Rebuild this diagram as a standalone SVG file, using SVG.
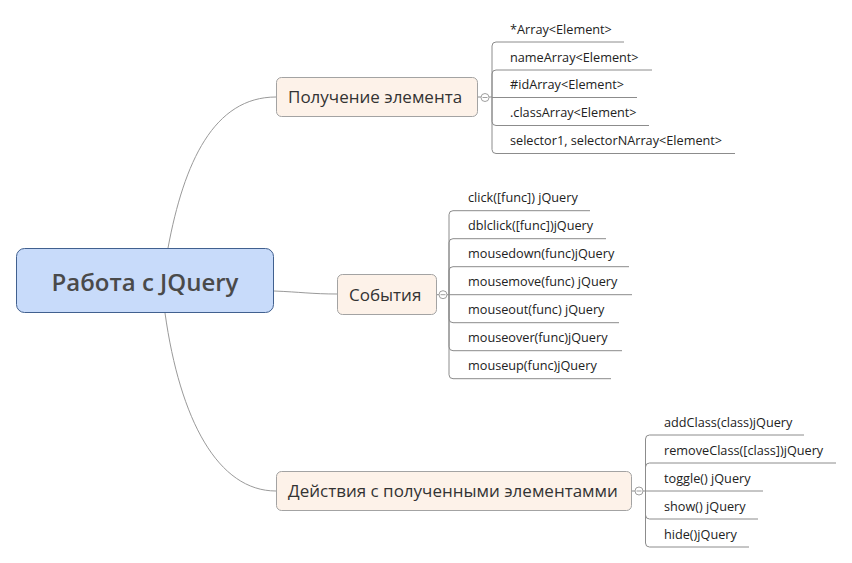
<svg xmlns="http://www.w3.org/2000/svg" width="852" height="563" viewBox="0 0 852 563">
<style>
.root{fill:#c8dbfa;stroke:#41608f;stroke-width:1}
.topic{fill:#fdf2e9;stroke:#a3a3a3;stroke-width:1}
.rt{font-family:"Open Sans","Noto Sans",sans-serif;font-size:24px;font-weight:600;fill:#4a4a4a}
.tt{font-family:"Open Sans","Noto Sans",sans-serif;font-size:17px;fill:#333}
.ct{font-family:"Open Sans","Noto Sans",sans-serif;font-size:12.7px;fill:#222}
.conn{fill:none;stroke:#9a9a9a;stroke-width:1}
.sub{fill:none;stroke:#8c8c8c;stroke-width:1}
.col{fill:#fff;stroke:#a0a0a0;stroke-width:1}
</style>
<g id="connectors">
<path class="conn" d="M168,248 C184,162 214,97 276,97"/>
<path class="conn" d="M274,291 C300,292 312,294 337,294"/>
<path class="conn" d="M165,313 C180,420 218,491 276,491"/>
<path class="sub" d="M478,97 H492"/>
<path class="sub" d="M437,294.7 H449"/>
<path class="sub" d="M632,491 H645.5"/>
<g id="b1-lines">
<path class="sub" d="M492,97.5 V46 Q492,42 496,42 H624"/>
<path class="sub" d="M492,97.5 V74 Q492,70 496,70 H652"/>
<path class="sub" d="M492,97.5 H637"/>
<path class="sub" d="M492,97.5 V121.5 Q492,125.5 496,125.5 H649"/>
<path class="sub" d="M492,97.5 V149.5 Q492,153.5 496,153.5 H735"/>
</g>
<g id="b2-lines">
<path class="sub" d="M449,294.7 V214.7 Q449,210.7 453,210.7 H590"/>
<path class="sub" d="M449,294.7 V242.7 Q449,238.7 453,238.7 H606"/>
<path class="sub" d="M449,294.7 V270.7 Q449,266.7 453,266.7 H629"/>
<path class="sub" d="M449,294.7 H632"/>
<path class="sub" d="M449,294.7 V318.7 Q449,322.7 453,322.7 H619"/>
<path class="sub" d="M449,294.7 V346.7 Q449,350.7 453,350.7 H622"/>
<path class="sub" d="M449,294.7 V374.7 Q449,378.7 453,378.7 H611"/>
</g>
<g id="b3-lines">
<path class="sub" d="M645.5,491 V439 Q645.5,435 649.5,435 H804"/>
<path class="sub" d="M645.5,491 V467 Q645.5,463 649.5,463 H836"/>
<path class="sub" d="M645.5,491 H763"/>
<path class="sub" d="M645.5,491 V515 Q645.5,519 649.5,519 H758"/>
<path class="sub" d="M645.5,491 V543 Q645.5,547 649.5,547 H749"/>
</g>
</g>
<g id="root">
<rect class="root" x="16.5" y="248.5" width="257" height="64" rx="8"/>
<text class="rt" x="145" y="291" text-anchor="middle">Работа с JQuery</text>
</g>
<g id="topic1">
<rect class="topic" x="276.5" y="77.5" width="201" height="39" rx="5"/>
<text class="tt" x="288" y="103">Получение элемента</text>
<circle class="col" cx="485" cy="97.5" r="4"/>
<line x1="482.5" y1="97.5" x2="487.5" y2="97.5" stroke="#a0a0a0"/>
</g>
<g id="topic2">
<rect class="topic" x="337.5" y="274.5" width="99" height="40" rx="5"/>
<text class="tt" x="349" y="301">События</text>
<circle class="col" cx="443" cy="294.7" r="4"/>
<line x1="440.5" y1="294.7" x2="445.5" y2="294.7" stroke="#a0a0a0"/>
</g>
<g id="topic3">
<rect class="topic" x="276.5" y="471.5" width="355" height="39" rx="5"/>
<text class="tt" x="288" y="497">Действия с полученными элементамми</text>
<circle class="col" cx="639" cy="491" r="4"/>
<line x1="636.5" y1="491" x2="641.5" y2="491" stroke="#a0a0a0"/>
</g>
<g id="c1-1"><text class="ct" x="510" y="33.5">*Array&lt;Element&gt;</text></g>
<g id="c1-2"><text class="ct" x="510" y="61.5">nameArray&lt;Element&gt;</text></g>
<g id="c1-3"><text class="ct" x="510" y="89">#idArray&lt;Element&gt;</text></g>
<g id="c1-4"><text class="ct" x="510" y="117">.classArray&lt;Element&gt;</text></g>
<g id="c1-5"><text class="ct" x="510" y="145">selector1, selectorNArray&lt;Element&gt;</text></g>
<g id="c2-1"><text class="ct" x="468" y="202">click([func]) jQuery</text></g>
<g id="c2-2"><text class="ct" x="468" y="230">dblclick([func])jQuery</text></g>
<g id="c2-3"><text class="ct" x="468" y="258">mousedown(func)jQuery</text></g>
<g id="c2-4"><text class="ct" x="468" y="286">mousemove(func) jQuery</text></g>
<g id="c2-5"><text class="ct" x="468" y="314">mouseout(func) jQuery</text></g>
<g id="c2-6"><text class="ct" x="468" y="342">mouseover(func)jQuery</text></g>
<g id="c2-7"><text class="ct" x="468" y="370">mouseup(func)jQuery</text></g>
<g id="c3-1"><text class="ct" x="664" y="426.5">addClass(class)jQuery</text></g>
<g id="c3-2"><text class="ct" x="664" y="454.5">removeClass([class])jQuery</text></g>
<g id="c3-3"><text class="ct" x="664" y="482.5">toggle() jQuery</text></g>
<g id="c3-4"><text class="ct" x="664" y="510.5">show() jQuery</text></g>
<g id="c3-5"><text class="ct" x="664" y="538.5">hide()jQuery</text></g>
</svg>
